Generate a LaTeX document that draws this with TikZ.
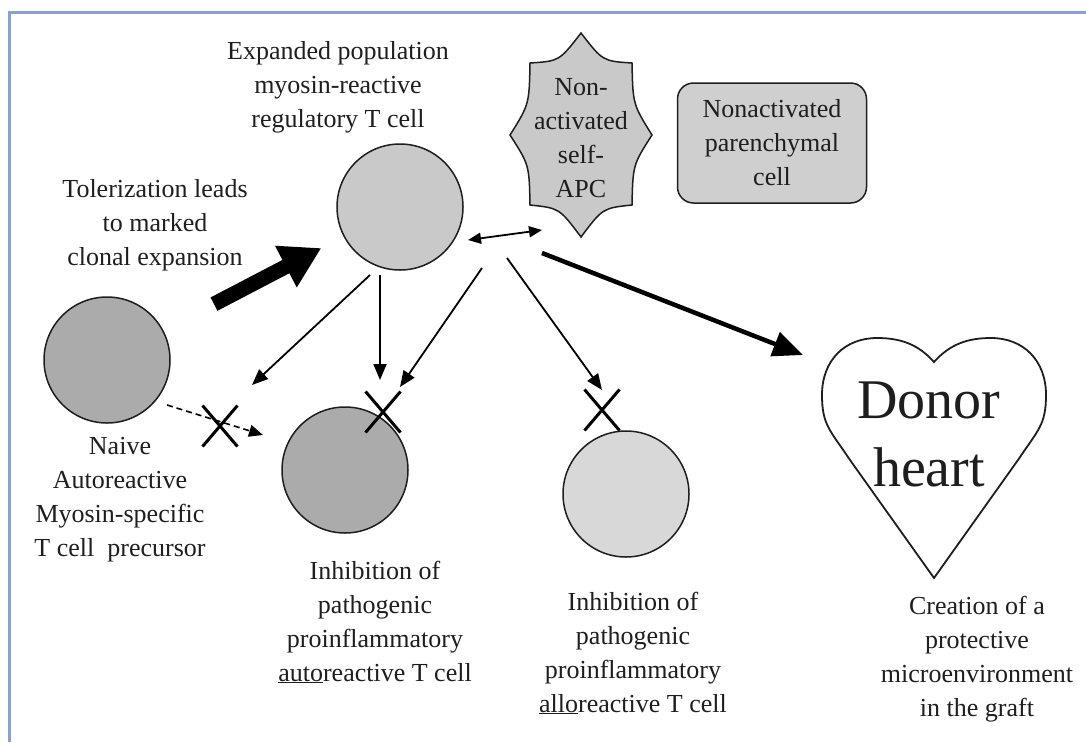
\documentclass[tikz,border=0pt]{standalone}
\usepackage{fontspec}
\setmainfont{Liberation Serif}
\usetikzlibrary{arrows.meta,shapes.misc}
\definecolor{framebl}{RGB}{140,160,210}
\definecolor{cellmid}{RGB}{171,171,171}
\definecolor{celllt}{RGB}{201,201,201}
\definecolor{cellpl}{RGB}{216,216,216}
\definecolor{boxgr}{RGB}{207,207,207}
\definecolor{inkgr}{RGB}{30,30,30}
\tikzset{
  cell/.style={circle,draw=inkgr,line width=1.5pt,minimum size=126pt,inner sep=0pt},
  lbl/.style={align=center,text=inkgr,font=\fontsize{26}{34}\selectfont},
  xmark/.style={cross out,draw=black,line width=3pt,minimum width=32pt,minimum height=38pt,inner sep=0pt},
  slimarrow/.style={draw=black,line width=1.8pt,-{Triangle[length=16pt,width=13pt]}},
}
\begin{document}
\begin{tikzpicture}[x=1pt,y=-1pt]
	\useasboundingbox (0,0) rectangle (1086,742);
	\draw[framebl,line width=3pt] (1086,12) -- (9,12) -- (9,742);
	% cells
	\node[cell,fill=celllt] (top) at (400,207) {};
	\node[cell,fill=cellmid] (naive) at (107,360) {};
	\node[cell,fill=cellmid] (auto) at (345,470) {};
	\node[cell,fill=cellpl] (allo) at (626,494) {};
	% self-APC star
	\draw[draw=inkgr,line width=1.5pt,fill=celllt] (581,33) .. controls (602.7,61.1) .. (632,63)
		.. controls (632.9,104.4) .. (652,135) .. controls (632.9,164.8) .. (632,205)
		.. controls (602.7,208.1) .. (581,237) .. controls (559.3,208.1) .. (530,205)
		.. controls (529.2,164.8) .. (510,135) .. controls (529.2,104.4) .. (530,63)
		.. controls (559.3,61.1) .. (581,33) -- cycle;
	\node[lbl] (apc) at (581,138) {Non-\\activated\\self-\\APC};
	\node[lbl,draw=inkgr,line width=1.5pt,fill=boxgr,rounded corners=16pt,minimum width=189pt,minimum height=120pt] (paren) at (772,143) {Nonactivated\\parenchymal\\cell};
	% donor heart
	\draw[draw=inkgr,line width=1.8pt,fill=white] (934,362) .. controls (918,344) and (900,338) .. (877,338)
		.. controls (845,338) and (822,360) .. (822,395) .. controls (822,425) and (830,430) .. (850,460)
		-- (934,578) -- (1018,460) .. controls (1038,430) and (1046,425) .. (1046,395)
		.. controls (1046,360) and (1023,338) .. (991,338) .. controls (968,338) and (950,344) .. (934,362) -- cycle;
	\node[align=center,text=inkgr,font=\fontsize{56}{68}\selectfont] (heart) at (929,434) {Donor\\heart};
	% labels
	\node[lbl] (toplbl) at (338,87) {Expanded population\\myosin-reactive\\regulatory T cell};
	\node[lbl] (tolbl) at (155,225) {Tolerization leads\\to marked\\clonal expansion};
	\node[lbl] (naivelbl) at (120,500) {Naive\\Autoreactive\\Myosin-specific\\T cell~ precursor};
	\node[lbl] (autolbl) at (375,622) {Inhibition of\\pathogenic\\proinflammatory\\\underline{auto}reactive T cell};
	\node[lbl] (allolbl) at (633,653) {Inhibition of\\pathogenic\\proinflammatory\\\underline{allo}reactive T cell};
	\node[lbl] (heartlbl) at (977,659) {Creation of a\\protective\\microenvironment\\in the graft};
	% connectors
	\coordinate (sA) at (370,275); \coordinate (tA) at (252,385);
	\coordinate (sB) at (380,275); \coordinate (tB) at (380,380);
	\coordinate (sC) at (482,268); \coordinate (tC) at (400,387);
	\coordinate (sD) at (507,258); \coordinate (tD) at (602,390);
	\coordinate (sE) at (542,253); \coordinate (tE) at (803,355);
	\coordinate (sF) at (468,240); \coordinate (tF) at (542,230);
	\coordinate (sG) at (167,405); \coordinate (tG) at (263,435);
	\draw[line width=15pt,-{Triangle[length=40pt,width=44pt]}] (naive) -- (top) [shorten <=57pt,shorten >=25pt];
	\draw[slimarrow] (sA) -- (tA);
	\draw[slimarrow] (sB) -- (tB);
	\draw[slimarrow] (sC) -- (tC);
	\draw[slimarrow] (sD) -- (tD);
	\draw[line width=4.5pt,-{Triangle[length=30pt,width=25pt]}] (sE) -- (tE);
	\draw[line width=1.8pt,{Triangle[length=13pt,width=11pt]}-{Triangle[length=13pt,width=11pt]}] (sF) -- (tF);
	\draw[line width=1.6pt,dash pattern=on 6pt off 4pt,-{Triangle[length=14pt,width=12pt]}] (sG) -- (tG);
	% blocked
	\node[xmark] (xnaive) at (220,426) {};
	\node[xmark] (xauto) at (383,412) {};
	\node[xmark] (xallo) at (602,410) {};
\end{tikzpicture}
\end{document}
